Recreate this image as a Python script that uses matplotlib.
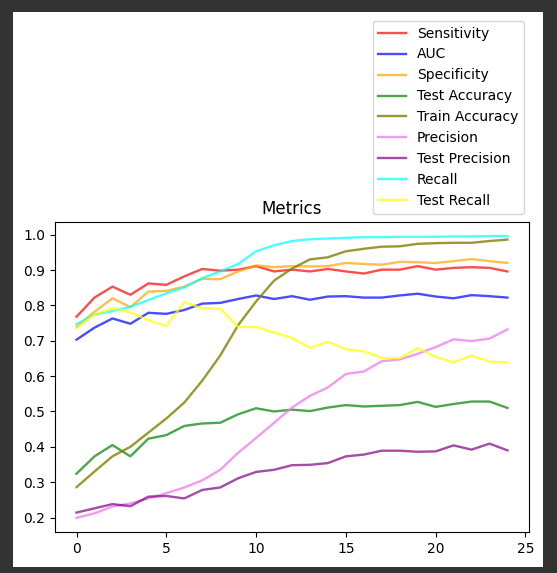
import matplotlib
matplotlib.use('Agg')
import matplotlib.pyplot as plt
from matplotlib.patches import Rectangle

# values, one per epoch
epochs = list(range(25))
sensitivity = [0.768, 0.822, 0.853, 0.830, 0.862, 0.858, 0.882, 0.903, 0.898, 0.901,
               0.911, 0.896, 0.901, 0.896, 0.903, 0.896, 0.890, 0.901, 0.901, 0.911,
               0.901, 0.906, 0.908, 0.906, 0.896]
auc = [0.703, 0.737, 0.763, 0.748, 0.779, 0.776, 0.787, 0.805, 0.807, 0.818,
       0.828, 0.818, 0.826, 0.816, 0.825, 0.826, 0.822, 0.822, 0.828, 0.833,
       0.825, 0.820, 0.829, 0.826, 0.822]
specificity = [0.739, 0.782, 0.820, 0.795, 0.839, 0.841, 0.853, 0.875, 0.874, 0.896,
               0.913, 0.908, 0.911, 0.910, 0.911, 0.920, 0.917, 0.915, 0.923, 0.922,
               0.920, 0.925, 0.931, 0.925, 0.920]
test_acc = [0.324, 0.373, 0.405, 0.373, 0.423, 0.433, 0.459, 0.466, 0.468, 0.492,
            0.509, 0.500, 0.505, 0.501, 0.511, 0.518, 0.514, 0.516, 0.518, 0.527,
            0.513, 0.521, 0.528, 0.528, 0.510]
train_acc = [0.286, 0.330, 0.373, 0.400, 0.440, 0.480, 0.525, 0.587, 0.658, 0.744,
             0.811, 0.870, 0.904, 0.930, 0.936, 0.953, 0.960, 0.966, 0.967, 0.974,
             0.976, 0.977, 0.977, 0.982, 0.986]
precision = [0.199, 0.212, 0.231, 0.240, 0.254, 0.269, 0.285, 0.305, 0.335, 0.383,
             0.425, 0.468, 0.511, 0.544, 0.568, 0.606, 0.613, 0.642, 0.647, 0.663,
             0.682, 0.704, 0.699, 0.706, 0.732]
test_precision = [0.214, 0.226, 0.238, 0.232, 0.259, 0.261, 0.254, 0.278, 0.285, 0.311,
                  0.329, 0.335, 0.348, 0.349, 0.354, 0.373, 0.378, 0.389, 0.389, 0.386,
                  0.387, 0.404, 0.392, 0.409, 0.390]
recall = [0.747, 0.774, 0.784, 0.796, 0.815, 0.834, 0.851, 0.877, 0.896, 0.917,
          0.953, 0.970, 0.982, 0.987, 0.989, 0.991, 0.993, 0.993, 0.994, 0.994,
          0.994, 0.995, 0.995, 0.996, 0.996]
test_recall = [0.736, 0.774, 0.792, 0.780, 0.758, 0.742, 0.809, 0.792, 0.790, 0.739,
               0.739, 0.723, 0.708, 0.680, 0.697, 0.676, 0.670, 0.651, 0.651, 0.679,
               0.654, 0.639, 0.658, 0.641, 0.639]

fig = plt.figure(figsize=(5.57, 5.73), dpi=100, facecolor='#333333')
# white notebook cell behind the plot
fig.patches.append(Rectangle((0.0233, 0.0105), 0.9515, 0.9686, transform=fig.transFigure,
                             facecolor='white', edgecolor='none', zorder=-10))
ax = fig.add_axes([0.0987, 0.0716, 0.851, 0.541])

ax.plot(epochs, sensitivity, color='red', alpha=0.7, lw=1.7, label='Sensitivity')
ax.plot(epochs, auc, color='blue', alpha=0.7, lw=1.7, label='AUC')
ax.plot(epochs, specificity, color='orange', alpha=0.7, lw=1.7, label='Specificity')
ax.plot(epochs, test_acc, color='green', alpha=0.7, lw=1.7, label='Test Accuracy')
ax.plot(epochs, train_acc, color='olive', alpha=0.8, lw=1.7, label='Train Accuracy')
ax.plot(epochs, precision, color='violet', alpha=0.8, lw=1.7, label='Precision')
ax.plot(epochs, test_precision, color='purple', alpha=0.7, lw=1.7, label='Test Precision')
ax.plot(epochs, recall, color='cyan', alpha=0.7, lw=1.7, label='Recall')
ax.plot(epochs, test_recall, color='yellow', alpha=0.7, lw=1.7, label='Test Recall')

ax.set_title('Metrics')
ax.legend(loc='upper right', bbox_to_anchor=(524 / 557, 1 - 21 / 573),
          bbox_transform=fig.transFigure, borderaxespad=0)

fig.savefig('out.png', dpi=100, facecolor=fig.get_facecolor())
